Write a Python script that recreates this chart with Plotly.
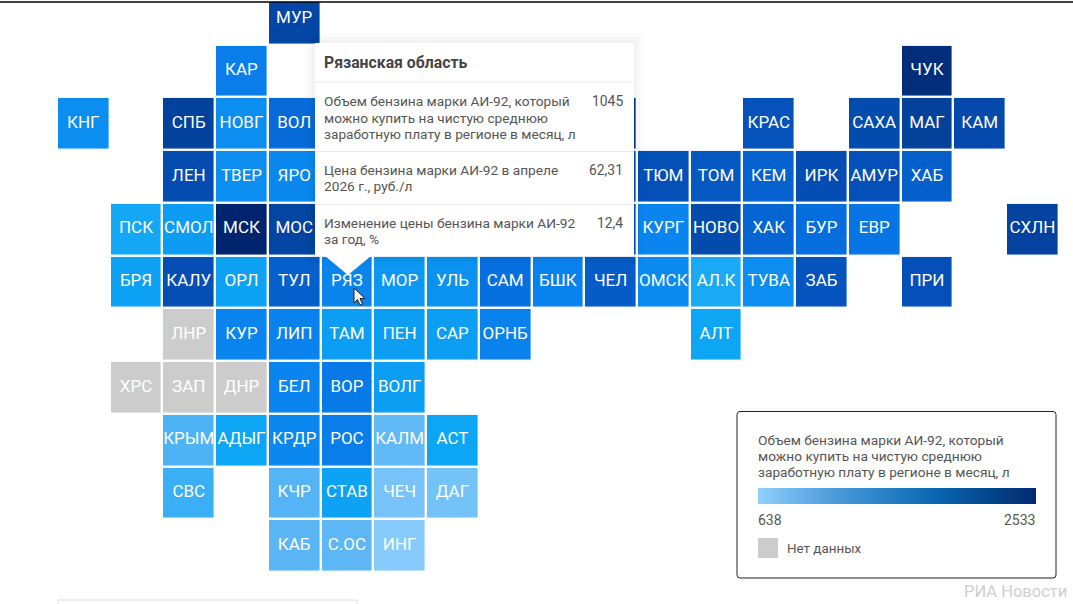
import plotly.graph_objects as go

W, H = 1073, 604
FONT = "Roboto"

# Tile grid: label, column, row, litres
tile_labels = ["МУР", "КАР", "ЧУК", "КНГ", "СПБ", "НОВГ", "ВОЛ", "КРАС", "САХА", "МАГ", "КАМ",
               "ЛЕН", "ТВЕР", "ЯРО", "ТЮМ", "ТОМ", "КЕМ", "ИРК", "АМУР", "ХАБ",
               "ПСК", "СМОЛ", "МСК", "МОС", "КУРГ", "НОВО", "ХАК", "БУР", "ЕВР", "СХЛН",
               "БРЯ", "КАЛУ", "ОРЛ", "ТУЛ", "РЯЗ", "МОР", "УЛЬ", "САМ", "БШК", "ЧЕЛ", "ОМСК", "АЛ.К", "ТУВА", "ЗАБ", "ПРИ",
               "КУР", "ЛИП", "ТАМ", "ПЕН", "САР", "ОРНБ", "АЛТ",
               "БЕЛ", "ВОР", "ВОЛГ",
               "КРЫМ", "АДЫГ", "КРДР", "РОС", "КАЛМ", "АСТ",
               "СВС", "КЧР", "СТАВ", "ЧЕЧ", "ДАГ",
               "КАБ", "С.ОС", "ИНГ",
               "", "", ""]
tile_cols = [4, 3, 16, 0, 2, 3, 4, 13, 15, 16, 17,
             2, 3, 4, 11, 12, 13, 14, 15, 16,
             1, 2, 3, 4, 11, 12, 13, 14, 15, 18,
             1, 2, 3, 4, 5, 6, 7, 8, 9, 10, 11, 12, 13, 14, 16,
             3, 4, 5, 6, 7, 8, 12,
             4, 5, 6,
             2, 3, 4, 5, 6, 7,
             2, 4, 5, 6, 7,
             4, 5, 6,
             10, 10, 10]
tile_rows = [0, 1, 1, 2, 2, 2, 2, 2, 2, 2, 2,
             3, 3, 3, 3, 3, 3, 3, 3, 3,
             4, 4, 4, 4, 4, 4, 4, 4, 4, 4,
             5, 5, 5, 5, 5, 5, 5, 5, 5, 5, 5, 5, 5, 5, 5,
             6, 6, 6, 6, 6, 6, 6,
             7, 7, 7,
             8, 8, 8, 8, 8, 8,
             9, 9, 9, 9, 9,
             10, 10, 10,
             2, 3, 4]
tile_values = [1680, 1080, 2300, 1000, 1780, 1000, 1200, 1480, 1600, 1800, 1620,
               1580, 1000, 1030, 1500, 1400, 1280, 1550, 1500, 1300,
               870, 930, 2533, 1700, 1050, 1600, 1250, 1180, 1120, 1760,
               900, 1540, 900, 1300, 1045, 950, 980, 1150, 1060, 1350, 1020, 860, 1000, 1450, 1500,
               1050, 1060, 920, 920, 920, 1060, 880,
               1050, 1100, 920,
               780, 880, 1030, 1080, 740, 880,
               810, 770, 900, 680, 690,
               760, 750, 638,
               2100, 1500, 1500]

nodata_labels = ["ЛНР", "ХРС", "ЗАП", "ДНР"]
nodata_cols = [2, 1, 2, 3]
nodata_rows = [6, 7, 7, 7]

N_COLS, N_ROWS = 19, 11
V_MIN, V_MAX = 638, 2533

# Tile colour ramp: value -> colour
ramp_values = [638, 760, 880, 1050, 1150, 1300, 1500, 1700, 2000, 2533]
ramp_colors = ["#86cbfb", "#5ab5f5", "#0da6f5", "#0a84ee", "#0670e0",
               "#0560cc", "#0550b8", "#0345a3", "#02388a", "#00246e"]
tile_scale = [[(v - V_MIN) / (V_MAX - V_MIN), c] for v, c in zip(ramp_values, ramp_colors)]
legend_scale = [[0, "#8fd0fc"], [0.25, "#509fdf"], [0.62, "#0a69b5"], [1, "#002a70"]]

tooltip_title = "Рязанская область"
tooltip_lines = [["Объем бензина марки АИ-92, который", "можно купить на чистую среднюю",
                  "заработную плату в регионе в месяц, л"],
                 ["Цена бензина марки АИ-92 в апреле", "2026 г., руб./л"],
                 ["Изменение цены бензина марки АИ-92", "за год, %"]]
tooltip_values = ["1045", "62,31", "12,4"]
legend_lines = tooltip_lines[0]
legend_ticks = ["638", "2533"]
nodata_text = "Нет данных"
credit = "РИА Новости"


def grid(cols, rows, values):
    z = [[None] * N_COLS for _ in range(N_ROWS)]
    for c, r, v in zip(cols, rows, values):
        z[r][c] = v
    return z


fig = go.Figure()
for z, scale, lo, hi in [(grid(tile_cols, tile_rows, tile_values), tile_scale, V_MIN, V_MAX),
                         (grid(nodata_cols, nodata_rows, [1] * len(nodata_labels)),
                          [[0, "#cccccc"], [1, "#cccccc"]], 0, 2)]:
    fig.add_trace(go.Heatmap(z=z, x=list(range(N_COLS)), y=list(range(N_ROWS)),
                             colorscale=scale, zmin=lo, zmax=hi, showscale=False,
                             xgap=2.4, ygap=2.4, hoverinfo="skip"))

fig.add_trace(go.Scatter(x=tile_cols + nodata_cols,
                         y=tile_rows + nodata_rows,
                         text=tile_labels + nodata_labels, mode="text", textposition="middle center",
                         textfont=dict(family=FONT, size=17, color="white"),
                         hoverinfo="skip", showlegend=False, cliponaxis=False))

# Legend gradient as a colourbar
fig.add_trace(go.Scatter(x=[0, 0], y=[0, 0], mode="markers", hoverinfo="skip", showlegend=False,
                         marker=dict(color=[V_MIN, V_MAX], cmin=V_MIN, cmax=V_MAX, size=1, opacity=0,
                                     colorscale=legend_scale, showscale=True,
                                     colorbar=dict(orientation="h", x=758 / W, xanchor="left",
                                                   y=1 - 504 / H, yanchor="bottom",
                                                   len=278, lenmode="pixels", thickness=16,
                                                   thicknessmode="pixels", xpad=0, ypad=0,
                                                   outlinewidth=0, ticks="", showticklabels=False))))


def fx(x): return x / W
def fy(y): return 1 - y / H


def rect(x0, y0, x1, y1, fill="white", line=None, width=0, opacity=1):
    return dict(type="rect", xref="paper", yref="paper", x0=fx(x0), x1=fx(x1), y0=fy(y1), y1=fy(y0),
                fillcolor=fill, opacity=opacity, layer="above",
                line=dict(color=line or "rgba(0,0,0,0)", width=width))


def path(points, fill, line=None, width=0):
    d = "M " + " L ".join(f"{fx(x):.5f},{fy(y):.5f}" for x, y in points) + " Z"
    return dict(type="path", xref="paper", yref="paper", path=d, fillcolor=fill, layer="above",
                line=dict(color=line or "rgba(0,0,0,0)", width=width))


def hline(x0, x1, y, color, width=1):
    return dict(type="line", xref="paper", yref="paper", x0=fx(x0), x1=fx(x1), y0=fy(y), y1=fy(y),
                layer="above", line=dict(color=color, width=width))


def label(x, y, s, size=14, color="#555555", anchor="left", bold=False):
    return dict(xref="paper", yref="paper", x=fx(x), y=fy(y), text=f"<b>{s}</b>" if bold else s,
                showarrow=False, xanchor=anchor, yanchor="middle", xshift=0, borderpad=0,
                font=dict(family=FONT, size=size, color=color))


shapes = [rect(0, 0, W, 2), hline(0, W, 2, "#000000", 1.5)]
for grow, alpha in [(10, 0.012), (6, 0.016), (3, 0.02)]:
    shapes.append(rect(315 - grow, 43 - grow, 634 + grow, 256 + grow, fill="#000000", opacity=alpha))
shapes.append(rect(315, 43, 634, 256))
shapes.append(path([(325, 256), (371, 256), (348, 275)], "white"))
shapes += [hline(315, 634, y, "#e9e9e9") for y in (82, 151.5, 204.5)]
# cursor
shapes.append(path([(354, 288), (354, 303), (357.5, 299.5), (360, 305), (362.5, 304), (360, 298.5), (365, 298.5)],
                   "#f4f4f4", line="#222222", width=1))
# legend frame
lx0, ly0, lx1, ly1, rad = 737, 411.5, 1056, 578, 3
d = (f"M {fx(lx0 + rad):.5f},{fy(ly0):.5f} L {fx(lx1 - rad):.5f},{fy(ly0):.5f} "
     f"Q {fx(lx1):.5f},{fy(ly0):.5f} {fx(lx1):.5f},{fy(ly0 + rad):.5f} "
     f"L {fx(lx1):.5f},{fy(ly1 - rad):.5f} Q {fx(lx1):.5f},{fy(ly1):.5f} {fx(lx1 - rad):.5f},{fy(ly1):.5f} "
     f"L {fx(lx0 + rad):.5f},{fy(ly1):.5f} Q {fx(lx0):.5f},{fy(ly1):.5f} {fx(lx0):.5f},{fy(ly1 - rad):.5f} "
     f"L {fx(lx0):.5f},{fy(ly0 + rad):.5f} Q {fx(lx0):.5f},{fy(ly0):.5f} {fx(lx0 + rad):.5f},{fy(ly0):.5f} Z")
shapes.append(dict(type="path", xref="paper", yref="paper", path=d, fillcolor="white", layer="above",
                   line=dict(color="#222222", width=1)))
shapes.append(rect(758, 538, 778, 558, fill="#cccccc"))
shapes.append(rect(58, 600, 357, 610, fill="white", line="#dddddd", width=1))

annotations = [label(323, 62.5, tooltip_title, size=15.8, color="#444444", bold=True)]
tooltip_y = [[101, 118, 134], [170, 186], [223, 239]]
for lines, ys, val in zip(tooltip_lines, tooltip_y, tooltip_values):
    for s, y in zip(lines, ys):
        annotations.append(label(323, y, s, size=13.7))
    annotations.append(label(624, ys[0], val, size=13.9, anchor="right"))
for s, y in zip(legend_lines, (440, 456, 472)):
    annotations.append(label(757, y, s, size=13.7))
annotations += [label(757, 520, legend_ticks[0], size=14),
                label(1036, 520, legend_ticks[1], size=14, anchor="right"),
                label(786, 548, nodata_text, size=13.4),
                label(1068, 591, credit, size=16.5, color="#cfcfcf", anchor="right")]

fig.update_layout(width=W, height=H, margin=dict(l=0, r=0, t=0, b=0), autosize=False,
                  paper_bgcolor="white", plot_bgcolor="white", showlegend=False,
                  xaxis=dict(range=[-1.58, 18.77], visible=False, fixedrange=True),
                  yaxis=dict(range=[11.107, -0.347], visible=False, fixedrange=True),
                  shapes=shapes, annotations=annotations)
fig.write_html("out.html", config=dict(displayModeBar=False),
               post_script="document.body.style.margin='0';document.documentElement.style.overflow='hidden';")
